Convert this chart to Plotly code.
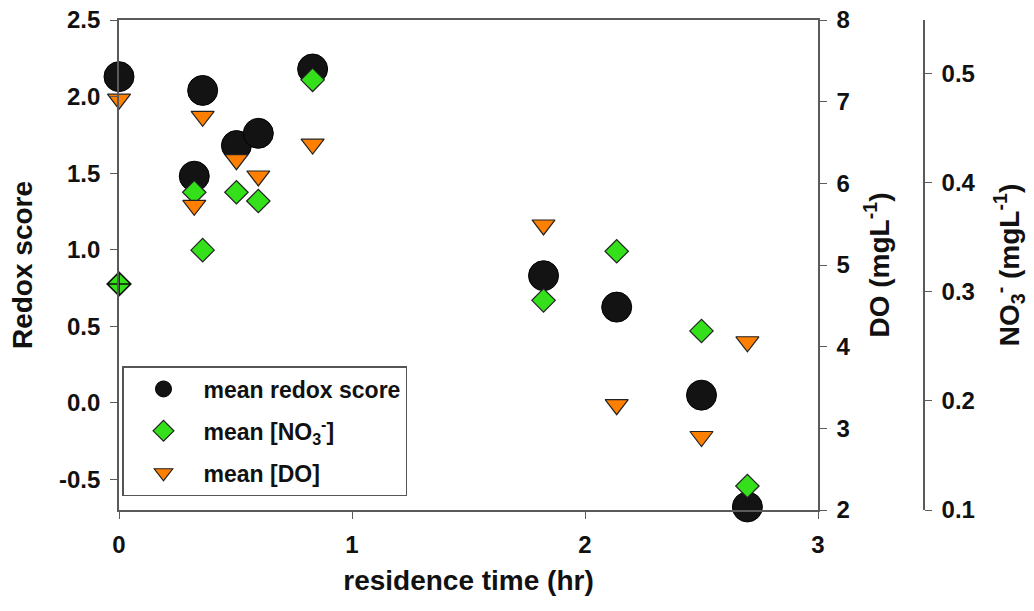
import plotly.graph_objects as go

# residence time (hr) of each sampling point
residence_hr = [0.0, 0.323, 0.359, 0.504, 0.598, 0.831, 1.822, 2.136, 2.50, 2.697]

# mean redox score at each residence time
redox_score = [2.13, 1.48, 2.04, 1.68, 1.76, 2.18, 0.83, 0.625, 0.05, -0.68]

# mean nitrate concentration (mg/L)
no3_mgl = [0.307, 0.391, 0.338, 0.391, 0.383, 0.494, 0.292, 0.337, 0.264, 0.122]

# mean dissolved oxygen (mg/L)
do_mgl = [7.03, 5.73, 6.82, 6.29, 6.09, 6.48, 5.49, 3.29, 2.90, 4.06]

# axis ticks
x_ticks = [0, 1, 2, 3]
x_labels = ["0", "1", "2", "3"]
redox_ticks = [-0.5, 0.0, 0.5, 1.0, 1.5, 2.0, 2.5]
redox_labels = ["-0.5", "0.0", "0.5", "1.0", "1.5", "2.0", "2.5"]
do_ticks = [2, 3, 4, 5, 6, 7, 8]
do_labels = ["2", "3", "4", "5", "6", "7", "8"]
no3_ticks = [0.1, 0.2, 0.3, 0.4, 0.5]
no3_labels = ["0.1", "0.2", "0.3", "0.4", "0.5"]

FONT = "Liberation Sans, Arial, Helvetica, sans-serif"
AXIS_COLOR = "#5a5a5a"
tick_font = dict(family=FONT, size=24, color="#111111", weight="bold")
title_font = dict(family=FONT, size=28, color="#111111", weight="bold")

GREEN = "#33e01a"
ORANGE = "#ff8000"

fig = go.Figure()

fig.add_trace(go.Scatter(
    x=residence_hr, y=redox_score, mode="markers", name="mean redox score",
    yaxis="y", cliponaxis=False, legendgroup="redox",
    marker=dict(symbol="circle", size=30, color="#131313",
                line=dict(color="#000000", width=1)),
))

fig.add_trace(go.Scatter(
    x=residence_hr, y=no3_mgl, mode="markers",
    name="mean [NO<sub>3</sub><sup>-</sup>]",
    yaxis="y2", cliponaxis=False, legendgroup="no3",
    marker=dict(symbol="diamond", size=18, color=GREEN,
                line=dict(color="#222222", width=1.2)),
))

# the inflow nitrate point carries a cross
fig.add_trace(go.Scatter(
    x=residence_hr[:1], y=no3_mgl[:1], mode="markers", showlegend=False,
    yaxis="y2", cliponaxis=False, hoverinfo="skip",
    marker=dict(symbol="diamond-cross", size=18, color=GREEN,
                line=dict(color="#111111", width=1.6)),
))

fig.add_trace(go.Scatter(
    x=residence_hr, y=do_mgl, mode="markers", name="mean [DO]",
    yaxis="y3", cliponaxis=False, legendgroup="do",
    marker=dict(symbol="triangle-down", size=20, color=ORANGE,
                line=dict(color="#222222", width=1.2)),
))

plot_left, plot_right = 119, 1000
plot_w = plot_right - plot_left
x_end = (818 - plot_left) / plot_w
no3_pos = (924 - plot_left) / plot_w

common = dict(showgrid=False, zeroline=False, showline=True, linecolor=AXIS_COLOR,
              linewidth=1.6, ticks="outside", ticklen=7, tickwidth=1.4,
              tickcolor=AXIS_COLOR, tickfont=tick_font, automargin=False,
              ticklabelstandoff=5)

fig.update_layout(
    width=1034, height=611,
    margin=dict(l=plot_left, r=1034 - plot_right, t=20, b=101),
    paper_bgcolor="white", plot_bgcolor="white",
    font=dict(family=FONT, color="#111111"),
    xaxis=dict(domain=[0, x_end], range=[0, 3], tickvals=x_ticks, ticktext=x_labels,
               mirror=True,
               title=dict(text="residence time (hr)", font=title_font, standoff=14),
               **common),
    yaxis=dict(range=[-0.7, 2.5], tickvals=redox_ticks, ticktext=redox_labels,
               title=dict(text="Redox score", font=title_font, standoff=18),
               **common),
    yaxis2=dict(overlaying="y", anchor="free", position=no3_pos, side="right",
                range=[0.1, 0.5488], tickvals=no3_ticks, ticktext=no3_labels,
                title=dict(text="NO<sub>3</sub><sup>-</sup> (mgL<sup>-1</sup>)",
                           font=title_font, standoff=24),
                **common),
    yaxis3=dict(overlaying="y", anchor="x", side="right",
                range=[2, 8], tickvals=do_ticks, ticktext=do_labels,
                title=dict(text="DO (mgL<sup>-1</sup>)", font=title_font, standoff=20),
                **common),
    legend=dict(x=(122 - plot_left) / plot_w, y=(510 - 366) / 490,
                xanchor="left", yanchor="top",
                bgcolor="white", bordercolor="#555555", borderwidth=1.5,
                font=dict(family=FONT, size=23, color="#111111", weight="bold"),
                itemsizing="trace", itemwidth=70, tracegroupgap=9),
    showlegend=True,
)

fig.write_html("out.html")
